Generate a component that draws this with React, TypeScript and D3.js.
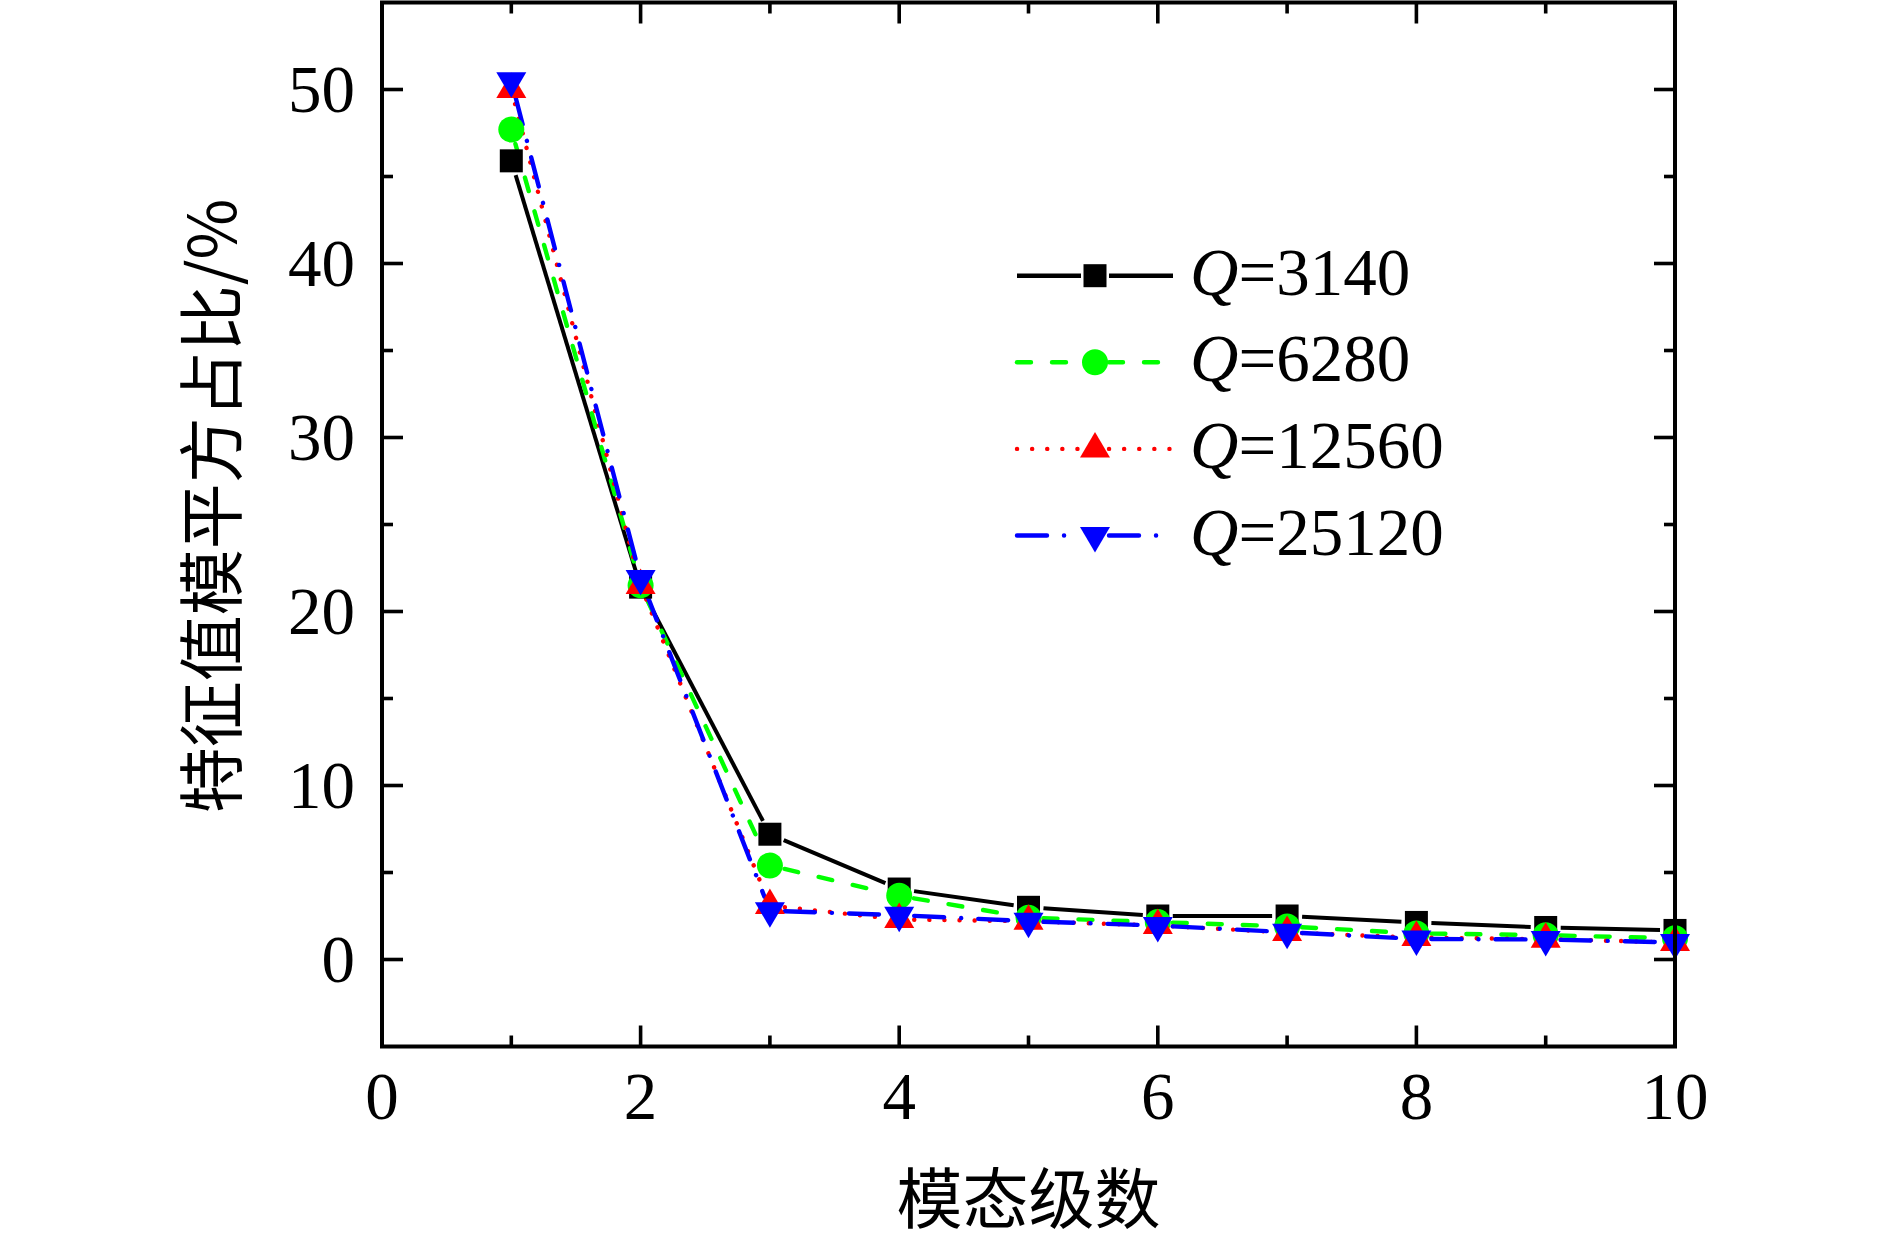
import React from 'react'
import * as d3 from 'd3'

// mode order (x) and the four series
const modes = [1, 2, 3, 4, 5, 6, 7, 8, 9, 10]
const q3140 = [45.9, 21.4, 7.2, 4.05, 3.0, 2.5, 2.5, 2.13, 1.84, 1.67]
const q6280 = [47.7, 21.5, 5.4, 3.66, 2.4, 2.15, 1.9, 1.5, 1.4, 1.22]
const q12560 = [50.0, 21.5, 3.1, 2.3, 2.2, 1.95, 1.55, 1.26, 1.17, 0.98]
const q25120 = [50.5, 21.9, 2.8, 2.55, 2.2, 1.95, 1.57, 1.18, 1.15, 0.98]

const seriesNames = ['3140', '6280', '12560', '25120']
const xMajorTicks = [0, 2, 4, 6, 8, 10]
const xMinorTicks = [1, 3, 5, 7, 9]
const yMajorTicks = [0, 10, 20, 30, 40, 50]
const yMinorTicks = [5, 15, 25, 35, 45]

const W = 1890
const H = 1242
const left = 382
const right = 1675
const top = 2.5
const bottom = 1046.5

const serif = '"Liberation Serif", "Times New Roman", serif'
const cjk = '"Noto Sans CJK SC", sans-serif'

interface Style {
  color: string
  dash: string
  cap: 'butt' | 'round'
  marker: 'square' | 'circle' | 'up' | 'down'
}

const styles: Style[] = [
  { color: '#000000', dash: '', cap: 'butt', marker: 'square' },
  { color: '#00ff00', dash: '14,21', cap: 'round', marker: 'circle' },
  { color: '#ff0000', dash: '0.1,15', cap: 'round', marker: 'up' },
  { color: '#0000ff', dash: '30,17,0.1,17', cap: 'round', marker: 'down' },
]

function Marker({ kind, cx, cy, color }: { kind: Style['marker'], cx: number, cy: number, color: string }) {
  if (kind === 'square') return <rect x={cx - 11.5} y={cy - 11.5} width={23} height={23} fill={color} />
  if (kind === 'circle') return <circle cx={cx} cy={cy} r={13} fill={color} />
  if (kind === 'up') {
    // centroid at (cx, cy)
    return <path d={`M${cx},${cy - 17} L${cx + 15},${cy + 8.5} L${cx - 15},${cy + 8.5} Z`} fill={color} />
  }
  return <path d={`M${cx},${cy + 17} L${cx + 15},${cy - 8.5} L${cx - 15},${cy - 8.5} Z`} fill={color} />
}

export default function App() {
  const x = d3.scaleLinear().domain([0, 10]).range([left, right])
  const y = d3.scaleLinear().domain([-5, 55]).range([bottom, top])
  const data = [q3140, q6280, q12560, q25120]
  const gap = 15

  // Origin-style segments: each segment is trimmed near the markers
  const segments = (vals: number[]) => {
    const pts = vals.map((v, i) => [x(modes[i]), y(v)] as [number, number])
    return d3.pairs(pts).map(([a, b]) => {
      const dx = b[0] - a[0]
      const dy = b[1] - a[1]
      const len = Math.hypot(dx, dy)
      const ux = dx / len
      const uy = dy / len
      return [a[0] + ux * gap, a[1] + uy * gap, b[0] - ux * gap, b[1] - uy * gap]
    })
  }

  const legendX0 = 1017
  const legendX1 = 1173
  const legendMid = 1095
  const legendRows = d3.range(4).map(i => 275.7 + i * 86.6)

  return (
    <svg width={W} height={H} style={{ position: 'absolute', left: 0, top: 0, background: '#fff' }}>
      {/* series lines */}
      {data.map((vals, si) => (
        <g key={'l' + si}>
          {segments(vals).map((s, k) => (
            <line key={k} x1={s[0]} y1={s[1]} x2={s[2]} y2={s[3]}
              stroke={styles[si].color} strokeWidth={si === 0 ? 4 : 4.4}
              strokeDasharray={styles[si].dash || undefined}
              strokeLinecap={styles[si].cap} />
          ))}
        </g>
      ))}
      {/* markers */}
      {data.map((vals, si) => (
        <g key={'m' + si}>
          {vals.map((v, i) => (
            <Marker key={i} kind={styles[si].marker} cx={x(modes[i])} cy={y(v)} color={styles[si].color} />
          ))}
        </g>
      ))}

      {/* frame */}
      <rect x={left} y={top} width={right - left} height={bottom - top} fill="none" stroke="#000" strokeWidth={4} />

      {/* x ticks */}
      {xMajorTicks.map(t => (
        <g key={'xM' + t}>
          <line x1={x(t)} x2={x(t)} y1={bottom} y2={bottom - 21} stroke="#000" strokeWidth={3.6} />
          <line x1={x(t)} x2={x(t)} y1={top} y2={top + 21} stroke="#000" strokeWidth={3.6} />
          <text x={x(t)} y={1119} textAnchor="middle" fontFamily={serif} fontSize={67}>{t}</text>
        </g>
      ))}
      {xMinorTicks.map(t => (
        <g key={'xm' + t}>
          <line x1={x(t)} x2={x(t)} y1={bottom} y2={bottom - 11} stroke="#000" strokeWidth={3.6} />
          <line x1={x(t)} x2={x(t)} y1={top} y2={top + 11} stroke="#000" strokeWidth={3.6} />
        </g>
      ))}

      {/* y ticks */}
      {yMajorTicks.map(t => (
        <g key={'yM' + t}>
          <line x1={left} x2={left + 21} y1={y(t)} y2={y(t)} stroke="#000" strokeWidth={3.6} />
          <line x1={right} x2={right - 21} y1={y(t)} y2={y(t)} stroke="#000" strokeWidth={3.6} />
          <text x={355} y={y(t) + 22} textAnchor="end" fontFamily={serif} fontSize={67}>{t}</text>
        </g>
      ))}
      {yMinorTicks.map(t => (
        <g key={'ym' + t}>
          <line x1={left} x2={left + 11} y1={y(t)} y2={y(t)} stroke="#000" strokeWidth={3.6} />
          <line x1={right} x2={right - 11} y1={y(t)} y2={y(t)} stroke="#000" strokeWidth={3.6} />
        </g>
      ))}

      {/* axis titles */}
      <text x={(left + right) / 2} y={1223} textAnchor="middle" fontFamily={cjk} fontSize={66}>模态级数</text>
      <text transform="translate(236,506) rotate(-90)" textAnchor="middle" fontFamily={cjk} fontSize={66}>
        特征值模平方占比/%
      </text>

      {/* legend */}
      {seriesNames.map((name, i) => (
        <g key={'lg' + i}>
          <line x1={legendX0} x2={legendMid - 14} y1={legendRows[i]} y2={legendRows[i]}
            stroke={styles[i].color} strokeWidth={4.4} strokeDasharray={styles[i].dash || undefined}
            strokeLinecap={styles[i].cap} />
          <line x1={legendMid + 14} x2={legendX1} y1={legendRows[i]} y2={legendRows[i]}
            stroke={styles[i].color} strokeWidth={4.4} strokeDasharray={styles[i].dash || undefined}
            strokeLinecap={styles[i].cap} />
          <Marker kind={styles[i].marker} cx={legendMid} cy={legendRows[i]} color={styles[i].color} />
          <text x={1190} y={legendRows[i] + 19} fontFamily={serif} fontSize={67}>
            <tspan fontStyle="italic">Q</tspan>=<tspan>{name}</tspan>
          </text>
        </g>
      ))}
    </svg>
  )
}
